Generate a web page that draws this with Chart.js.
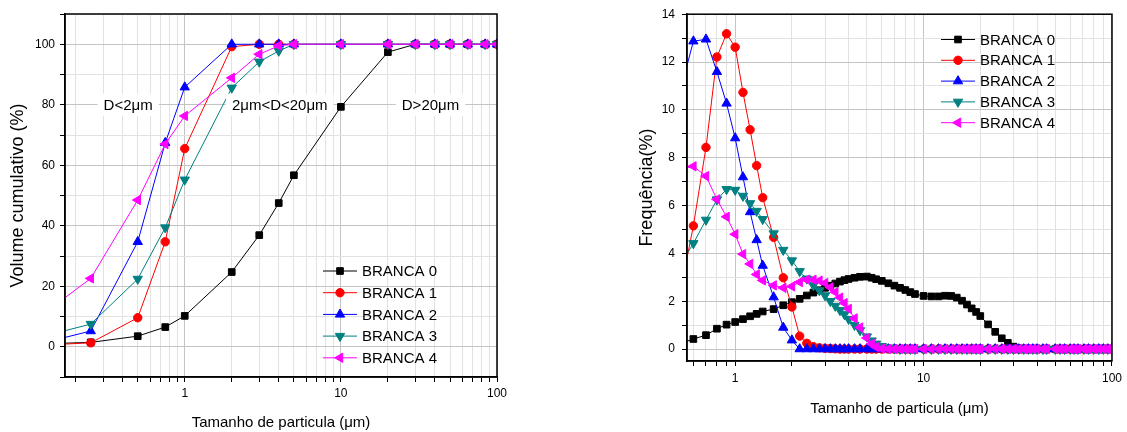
<!DOCTYPE html>
<html>
<head>
<meta charset="utf-8">
<script src="https://cdn.jsdelivr.net/npm/chart.js@4.4.1/dist/chart.umd.min.js"></script>
<style>
  html, body { margin: 0; padding: 0; background: #fff; }
  #wrap { position: relative; width: 1127px; height: 432px; overflow: hidden; }
  canvas { position: absolute; top: 0; }
  #cum { left: 0; }
  #freq { left: 600px; }
</style>
</head>
<body>
<div id="wrap">
  <canvas id="cum" width="560" height="432"></canvas>
  <canvas id="freq" width="527" height="432"></canvas>
</div>
<script>
// nomes e cores das amostras
const seriesNames = ['BRANCA 0', 'BRANCA 1', 'BRANCA 2', 'BRANCA 3', 'BRANCA 4'];
const seriesColors = ['#000000', '#ff0000', '#0000ff', '#008080', '#ff00ff'];

// grafico 1: volume cumulativo (%)
const cumSizes = [0.1, 0.25, 0.5, 0.75, 1, 2, 3, 4, 5, 10, 20, 30, 40, 50, 65, 84, 100];
const cumB0 = [0.8, 1.45, 3.5, 6.5, 10.2, 24.7, 36.9, 47.5, 56.7, 79.3, 97.4, 100, 100, 100, 100, 100, 100];
const cumB1 = [0.3, 1.3, 9.6, 34.7, 65.5, 99.2, 100, 100, 100, 100, 100, 100, 100, 100, 100, 100, 100];
const cumB2 = [0.1, 5.2, 34.7, 67.4, 85.8, 100, 100, 100, 100, 100, 100, 100, 100, 100, 100, 100, 100];
const cumB3 = [2.2, 7.5, 22.4, 39.4, 55.2, 85.6, 94.2, 97.8, 100, 100, 100, 100, 100, 100, 100, 100, 100];
const cumB4 = [7.2, 22.6, 48.5, 67.0, 76.3, 88.9, 96.7, 99.5, 100, 100, 100, 100, 100, 100, 100, 100, 100];
const cumXTicks = [0.2, 0.3, 0.4, 0.5, 0.6, 0.7, 0.8, 0.9, 1, 2, 3, 4, 5, 6, 7, 8, 9, 10,
                   20, 30, 40, 50, 60, 70, 80, 90, 100];
const cumYTicks = [-10, 0, 10, 20, 30, 40, 50, 60, 70, 80, 90, 100, 110];
const cumYLabels = [0, 20, 40, 60, 80, 100];
const cumNotes = [
  { text: 'D<2\u03bcm', x: 0.434, y: 80 },
  { text: '2\u03bcm<D<20\u03bcm', x: 4.06, y: 80 },
  { text: 'D>20\u03bcm', x: 37.5, y: 80 }
];

// grafico 2: frequencia (%)
const freqSizes = [0.5, 0.6, 0.7, 0.8, 0.9, 1.0, 1.1, 1.2, 1.3, 1.4,
                   1.6, 1.8, 2.0, 2.2, 2.4, 2.6, 2.8, 3.0, 3.2, 3.4,
                   3.6, 3.8, 4.0, 4.3, 4.6, 5.0, 5.3, 5.6, 6.0, 6.5,
                   7.0, 7.5, 8.0, 8.5, 9.0, 10, 11, 12, 13, 14,
                   15, 16, 17, 18, 19, 20, 22, 24, 26, 28,
                   30, 32, 34, 36, 38, 40, 43, 45, 50, 53,
                   56, 60, 63, 66, 71, 75, 80, 85, 90, 95,
                   100];
const freqB0 = [0.20, 0.42, 0.58, 0.85, 1.02, 1.13, 1.25, 1.37, 1.47, 1.57,
                1.67, 1.83, 1.96, 2.10, 2.24, 2.36, 2.46, 2.56, 2.65, 2.74,
                2.82, 2.88, 2.93, 2.98, 3.02, 3.03, 2.98, 2.92, 2.85, 2.75,
                2.65, 2.56, 2.47, 2.38, 2.30, 2.22, 2.20, 2.20, 2.23, 2.22,
                2.15, 2.02, 1.86, 1.70, 1.55, 1.38, 1.03, 0.72, 0.45, 0.26,
                0.10, 0.03, 0, 0, 0, 0, 0, 0, 0, 0,
                0, 0, 0, 0, 0, 0, 0, 0, 0, 0,
                0];
const freqB1 = [2.0, 5.15, 8.43, 12.21, 13.18, 12.62, 10.73, 9.17, 7.67, 6.33,
                4.67, 2.98, 1.76, 0.54, 0.24, 0.10, 0.05, 0.03, 0.02, 0.01,
                0, 0, 0, 0, 0, 0, 0, 0, 0, 0,
                0, 0, 0, 0, 0, 0, 0, 0, 0, 0,
                0, 0, 0, 0, 0, 0, 0, 0, 0, 0,
                0, 0, 0, 0, 0, 0, 0, 0, 0, 0,
                0, 0, 0, 0, 0, 0, 0, 0, 0, 0,
                0];
const freqB2 = [10.5, 12.87, 12.95, 11.59, 10.27, 8.82, 7.19, 5.73, 4.56, 3.49,
                2.17, 0.90, 0.37, 0, 0, 0, 0, 0, 0, 0,
                0, 0, 0, 0, 0, 0, 0, 0, 0, 0,
                0, 0, 0, 0, 0, 0, 0, 0, 0, 0,
                0, 0, 0, 0, 0, 0, 0, 0, 0, 0,
                0, 0, 0, 0, 0, 0, 0, 0, 0, 0,
                0, 0, 0, 0, 0, 0, 0, 0, 0, 0,
                0];
const freqB3 = [3.4, 4.42, 5.40, 6.25, 6.68, 6.65, 6.40, 6.09, 5.77, 5.43,
                4.83, 4.14, 3.70, 3.25, 2.94, 2.66, 2.45, 2.24, 2.00, 1.80,
                1.62, 1.45, 1.25, 1.00, 0.78, 0.52, 0.35, 0.22, 0.12, 0.05,
                0.02, 0, 0, 0, 0, 0, 0, 0, 0, 0,
                0, 0, 0, 0, 0, 0, 0, 0, 0, 0,
                0, 0, 0, 0, 0, 0, 0, 0, 0, 0,
                0, 0, 0, 0, 0, 0, 0, 0, 0, 0,
                0];
const freqB4 = [7.5, 7.64, 7.23, 6.26, 5.53, 4.80, 3.97, 3.56, 3.12, 2.87,
                2.66, 2.56, 2.62, 2.80, 2.90, 2.90, 2.86, 2.76, 2.58, 2.38,
                2.15, 1.92, 1.68, 1.28, 0.90, 0.46, 0.22, 0.08, 0.02, 0,
                0, 0, 0, 0, 0, 0, 0, 0, 0, 0,
                0, 0, 0, 0, 0, 0, 0, 0, 0, 0,
                0, 0, 0, 0, 0, 0, 0, 0, 0, 0,
                0, 0, 0, 0, 0, 0, 0, 0, 0, 0,
                0];
const freqXTicks = [0.6, 0.7, 0.8, 0.9, 1, 2, 3, 4, 5, 6, 7, 8, 9, 10,
                    20, 30, 40, 50, 60, 70, 80, 90, 100];
const freqYTicks = [0, 1, 2, 3, 4, 5, 6, 7, 8, 9, 10, 11, 12, 13, 14];
const freqYLabels = [0, 2, 4, 6, 8, 10, 12, 14];
const majorXLabels = [1, 10, 100];

// estilo dos marcadores (quadrado, circulo, triangulos)
const markers = [
  { style: 'rect', rot: 0, r: 4.7 },
  { style: 'circle', rot: 0, r: 4.2 },
  { style: 'triangle', rot: 0, r: 5.4 },
  { style: 'triangle', rot: 180, r: 5.4 },
  { style: 'triangle', rot: 270, r: 5.4 }
];

const FONT = 'Arial, "Liberation Sans", sans-serif';

function drawMarker(ctx, m, x, y) {
  ctx.beginPath();
  if (m.style === 'circle') {
    ctx.arc(x, y, m.r, 0, Math.PI * 2);
  } else if (m.style === 'rect') {
    const s = m.r * Math.SQRT1_2;
    ctx.rect(x - s, y - s, 2 * s, 2 * s);
  } else {
    let a = m.rot * Math.PI / 180;
    for (let k = 0; k < 3; k++) {
      const px = x + Math.sin(a) * m.r, py = y - Math.cos(a) * m.r;
      if (k === 0) ctx.moveTo(px, py); else ctx.lineTo(px, py);
      a += Math.PI * 2 / 3;
    }
    ctx.closePath();
  }
  ctx.fill();
  ctx.stroke();
}

function makeDatasets(xs, ys) {
  return ys.map((vals, i) => ({
    label: seriesNames[i],
    data: xs.map((x, k) => ({ x: x, y: vals[k] })),
    borderColor: seriesColors[i],
    backgroundColor: seriesColors[i],
    pointBackgroundColor: seriesColors[i],
    pointBorderColor: seriesColors[i],
    pointStyle: markers[i].style,
    pointRotation: markers[i].rot,
    pointRadius: markers[i].r,
    pointBorderWidth: 1,
    borderWidth: 1,
    tension: 0,
    fill: false,
    order: 5 - i // BRANCA 4 fica por cima
  }));
}

// caixa preta em volta da area do grafico
const frameBox = {
  id: 'frameBox',
  afterDatasetsDraw(chart) {
    const { ctx, chartArea: a } = chart;
    ctx.save();
    ctx.strokeStyle = '#000';
    ctx.lineWidth = 1.5;
    ctx.strokeRect(a.left, a.top, a.right - a.left, a.bottom - a.top);
    ctx.restore();
  }
};

// textos com fundo branco (D<2um etc.)
const notesPlugin = {
  id: 'notes',
  afterDatasetsDraw(chart, args, opts) {
    if (!opts.items) return;
    const { ctx } = chart;
    const xs = chart.scales.x, ys = chart.scales.y;
    ctx.save();
    ctx.font = '15px ' + FONT;
    ctx.textAlign = 'center';
    ctx.textBaseline = 'middle';
    opts.items.forEach(n => {
      const px = xs.getPixelForValue(n.x), py = ys.getPixelForValue(n.y);
      const w = ctx.measureText(n.text).width;
      ctx.fillStyle = '#fff';
      ctx.fillRect(px - w / 2 - 6, py - 11, w + 12, 22);
      ctx.fillStyle = '#000';
      ctx.fillText(n.text, px, py + 1);
    });
    ctx.restore();
  }
};

// legenda dentro da area do grafico
const legendInside = {
  id: 'legendInside',
  afterDraw(chart, args, opts) {
    const { ctx, chartArea } = chart;
    const x0 = chartArea.left + opts.dx, y0 = chartArea.top + opts.dy;
    ctx.save();
    chart.data.datasets.forEach((ds, i) => {
      const y = y0 + i * opts.rowH;
      ctx.strokeStyle = ds.borderColor;
      ctx.lineWidth = 1;
      ctx.beginPath();
      ctx.moveTo(x0, y);
      ctx.lineTo(x0 + 34, y);
      ctx.stroke();
      ctx.fillStyle = ds.borderColor;
      drawMarker(ctx, markers[i], x0 + 17, y);
      ctx.fillStyle = '#000';
      ctx.font = '15px ' + FONT;
      ctx.textBaseline = 'middle';
      ctx.textAlign = 'left';
      ctx.fillText(ds.label, x0 + 39, y + 1);
    });
    ctx.restore();
  }
};

function xAxis(min, tickList, height, titlePad, labelPad) {
  const isMajor = c => c.tick && majorXLabels.includes(c.tick.value);
  return {
    type: 'logarithmic',
    min: min,
    max: 100,
    afterBuildTicks: s => { s.ticks = tickList.map(v => ({ value: v, major: majorXLabels.includes(v) })); },
    afterFit: s => { s.height = height; },
    border: { color: '#000', width: 1.5 },
    grid: {
      color: c => isMajor(c) ? '#c4c4c4' : '#e2e2e2',
      borderDash: c => isMajor(c) ? [] : [1, 2],
      lineWidth: 1,
      tickColor: '#000',
      tickLength: 5
    },
    ticks: {
      autoSkip: false,
      maxRotation: 0,
      padding: labelPad,
      color: '#000',
      font: { family: FONT, size: 12 },
      callback: v => majorXLabels.includes(v) ? String(v) : ''
    },
    title: {
      display: true,
      text: 'Tamanho de particula (\u03bcm)',
      color: '#000',
      font: { family: FONT, size: 15 },
      padding: { top: 0, bottom: titlePad }
    }
  };
}

function yAxis(min, max, tickList, labelList, width, title, titlePad, labelPad) {
  const isMajor = c => c.tick && labelList.includes(c.tick.value);
  return {
    type: 'linear',
    min: min,
    max: max,
    afterBuildTicks: s => { s.ticks = tickList.map(v => ({ value: v })); },
    afterFit: s => { s.width = width; },
    border: { color: '#000', width: 1.5 },
    grid: {
      color: c => isMajor(c) ? '#c4c4c4' : '#e2e2e2',
      borderDash: c => isMajor(c) ? [] : [1, 2],
      lineWidth: 1,
      tickColor: '#000',
      tickLength: 5
    },
    ticks: {
      autoSkip: false,
      padding: labelPad,
      color: '#000',
      font: { family: FONT, size: 12 },
      callback: v => labelList.includes(v) ? String(v) : ''
    },
    title: {
      display: true,
      text: title,
      color: '#000',
      font: { family: FONT, size: 18 },
      padding: { top: titlePad, bottom: 0 }
    }
  };
}

new Chart(document.getElementById('cum'), {
  type: 'line',
  data: { datasets: makeDatasets(cumSizes, [cumB0, cumB1, cumB2, cumB3, cumB4]) },
  options: {
    responsive: false,
    animation: false,
    layout: { padding: { left: 0, right: 63, top: 14, bottom: 0 } },
    scales: {
      x: xAxis(0.171, cumXTicks, 55, 0, 4),
      y: yAxis(-10, 110, cumYTicks, cumYLabels, 65, 'Volume cumulativo (%)', 7, 5)
    },
    plugins: {
      legend: { display: false },
      tooltip: { enabled: false },
      notes: { items: cumNotes },
      legendInside: { dx: 258, dy: 257, rowH: 21.7 }
    }
  },
  plugins: [frameBox, notesPlugin, legendInside]
});

new Chart(document.getElementById('freq'), {
  type: 'line',
  data: { datasets: makeDatasets(freqSizes, [freqB0, freqB1, freqB2, freqB3, freqB4]) },
  options: {
    responsive: false,
    animation: false,
    layout: { padding: { left: 27, right: 14, top: 12, bottom: 0 } },
    scales: {
      x: xAxis(0.555, freqXTicks, 71, 14.5, 5),
      y: yAxis(-0.5, 14, freqYTicks, freqYLabels, 60, 'Frequ\u00eancia(%)', 9, 7)
    },
    plugins: {
      legend: { display: false },
      tooltip: { enabled: false },
      notes: { items: null },
      legendInside: { dx: 254, dy: 25.3, rowH: 20.8 }
    }
  },
  plugins: [frameBox, notesPlugin, legendInside]
});
</script>
</body>
</html>
